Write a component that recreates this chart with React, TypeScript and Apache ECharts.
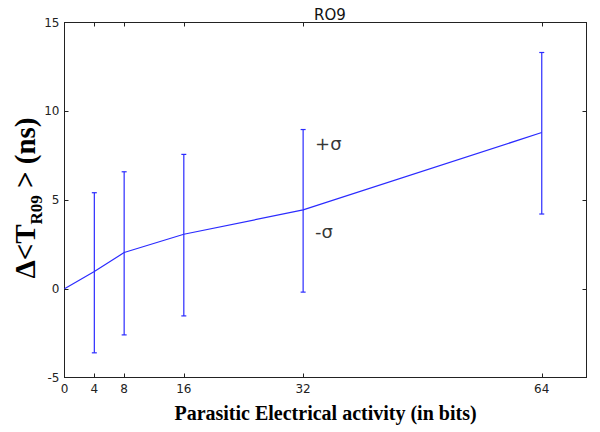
import React, { useEffect, useRef } from "react";
import * as echarts from "echarts";

const xTicks = [0, 4, 8, 16, 32, 64];
const yTicks = [-5, 0, 5, 10, 15];
const xs = [0, 4, 8, 16, 32, 64];
const means = [0, 0.97, 2.04, 3.07, 4.44, 8.8];
const errX = [4, 8, 16, 32, 64];
const errLow = [-3.61, -2.6, -1.53, -0.19, 4.21];
const errHigh = [5.41, 6.59, 7.57, 8.97, 13.31];
const annX = [33.6, 33.6];
const annY = [8.2, 3.2];
const annText = ["+σ", "-σ"];

const BLUE = "#2b2bff";
const AXIS = "#222";

export default function App() {
  const ref = useRef<HTMLDivElement>(null);
  useEffect(() => {
    const chart = echarts.init(ref.current!, null, { renderer: "svg" });
    const tickFont = { fontFamily: "DejaVu Sans", fontSize: 12, color: "#222" };
    const baseX = {
      type: "value",
      min: 0,
      max: 70,
      splitLine: { show: false },
      axisLine: { show: true, onZero: false, lineStyle: { color: AXIS, width: 1 } },
    };
    const baseY = {
      type: "value",
      min: -5,
      max: 15,
      interval: 5,
      splitLine: { show: false },
      axisLine: { show: true, onZero: false, lineStyle: { color: AXIS, width: 1 } },
    };
    chart.setOption({
      animation: false,
      title: {
        text: "RO9",
        left: 325,
        textAlign: "center",
        top: 2,
        textStyle: { fontFamily: "DejaVu Sans", fontSize: 15, fontWeight: "normal", color: "#111" },
      },
      grid: { left: 64.5, right: 13.5, top: 22.5, bottom: 54.5, containLabel: false, outerBoundsMode: "none" },
      xAxis: [
        {
          ...baseX,
          position: "bottom",
          name: "Parasitic Electrical activity (in bits)",
          nameLocation: "middle",
          nameGap: 25,
          nameTextStyle: { fontFamily: "Liberation Serif", fontWeight: "bold", fontSize: 20, color: "#000" },
          axisTick: { show: true, inside: true, length: 4, customValues: xTicks, lineStyle: { color: AXIS } },
          axisLabel: { show: true, margin: 5, customValues: xTicks, ...tickFont },
        },
        {
          ...baseX,
          position: "top",
          axisTick: { show: true, inside: true, length: 4, customValues: xTicks, lineStyle: { color: AXIS } },
          axisLabel: { show: false },
        },
      ],
      yAxis: [
        {
          ...baseY,
          position: "left",
          axisTick: { show: true, inside: true, length: 4, customValues: yTicks, lineStyle: { color: AXIS } },
          axisLabel: { show: true, margin: 5, customValues: yTicks, ...tickFont },
        },
        {
          ...baseY,
          position: "right",
          axisTick: { show: true, inside: true, length: 4, customValues: yTicks, lineStyle: { color: AXIS } },
          axisLabel: { show: false },
        },
      ],
      graphic: [
        {
          type: "text",
          x: 25,
          y: 198,
          rotation: Math.PI / 2,
          style: {
            text: "{m|Δ<T}{s|R09}{m| > (ns)}",
            align: "center",
            verticalAlign: "middle",
            fill: "#000",
            rich: {
              m: {
                fontFamily: "Liberation Serif",
                fontWeight: "bold",
                fontSize: 29,
                lineHeight: 40,
                verticalAlign: "middle",
                fill: "#000",
              },
              s: {
                fontFamily: "Liberation Serif",
                fontWeight: "bold",
                fontSize: 17,
                lineHeight: 17,
                verticalAlign: "bottom",
                fill: "#000",
              },
            },
          },
        },
      ],
      series: [
        {
          type: "line",
          data: xs.map((x, i) => [x, means[i]]),
          showSymbol: false,
          symbol: "none",
          lineStyle: { color: BLUE, width: 1.2 },
          itemStyle: { color: BLUE },
          z: 3,
        },
        {
          type: "custom",
          data: errX.map((x, i) => [x, errLow[i], errHigh[i]]),
          renderItem: (params: any, api: any) => {
            const x = api.value(0);
            const lo = api.coord([x, api.value(1)]);
            const hi = api.coord([x, api.value(2)]);
            const w = 2.5;
            const style = { stroke: BLUE, lineWidth: 1.2 };
            return {
              type: "group",
              children: [
                { type: "line", shape: { x1: lo[0], y1: lo[1], x2: hi[0], y2: hi[1] }, style },
                { type: "line", shape: { x1: lo[0] - w, y1: lo[1], x2: lo[0] + w, y2: lo[1] }, style },
                { type: "line", shape: { x1: hi[0] - w, y1: hi[1], x2: hi[0] + w, y2: hi[1] }, style },
              ],
            };
          },
          z: 2,
        },
        {
          type: "scatter",
          data: annX.map((x, i) => ({ value: [x, annY[i]], label: { formatter: annText[i] } })),
          symbolSize: 0,
          label: {
            show: true,
            position: "inside",
            align: "left",
            verticalAlign: "middle",
            fontFamily: "DejaVu Sans",
            fontSize: 18,
            color: "#000",
          },
          silent: true,
        },
      ],
    });
    return () => chart.dispose();
  }, []);
  return (
    <div
      ref={ref}
      style={{ position: "fixed", left: 0, top: 0, width: 600, height: 432, background: "#fff" }}
    />
  );
}
